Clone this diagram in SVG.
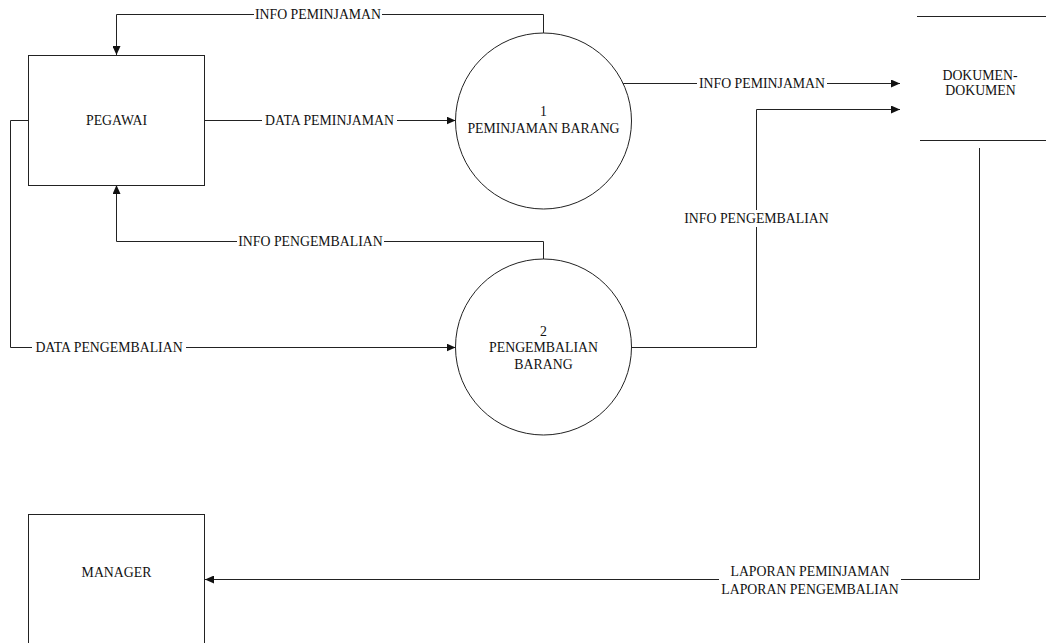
<svg xmlns="http://www.w3.org/2000/svg" width="1046" height="643" viewBox="0 0 1046 643">
<style>
text{font-family:'Liberation Serif','DejaVu Serif',serif;font-size:13.8px;fill:#111;text-anchor:middle}
.n{fill:#fff;stroke:#222;stroke-width:1}
.c{fill:none;stroke:#222;stroke-width:1}
</style>
<defs>
<marker id="ah" markerUnits="userSpaceOnUse" markerWidth="9" markerHeight="8" refX="9" refY="4" orient="auto">
<path d="M0,0 L9,4 L0,8 z" fill="#111"/>
</marker>
</defs>
<rect width="1046" height="643" fill="#fff"/>
<g id="connectors">
<path class="c" d="M543.5,33 V14.5 H382"/>
<path class="c" d="M254,14.5 H116.5 V55" marker-end="url(#ah)"/>
<text x="318" y="19">INFO PEMINJAMAN</text>
<path class="c" d="M205,120.5 H262"/>
<path class="c" d="M397,120.5 H455.5" marker-end="url(#ah)"/>
<text x="329.5" y="125">DATA PEMINJAMAN</text>
<path class="c" d="M543.5,259 V241.5 H384"/>
<path class="c" d="M237,241.5 H116.5 V185" marker-end="url(#ah)"/>
<text x="310.5" y="246">INFO PENGEMBALIAN</text>
<path class="c" d="M28,120.5 H10.5 V347.5 H32"/>
<path class="c" d="M186,347.5 H455.5" marker-end="url(#ah)"/>
<text x="109" y="352">DATA PENGEMBALIAN</text>
<path class="c" d="M622.5,83.5 H697"/>
<path class="c" d="M827,83.5 H900" marker-end="url(#ah)"/>
<text x="762" y="88">INFO PEMINJAMAN</text>
<path class="c" d="M631,347.5 H756.5 V227"/>
<path class="c" d="M756.5,210 V109.5 H900" marker-end="url(#ah)"/>
<text x="756.5" y="223">INFO PENGEMBALIAN</text>
<path class="c" d="M979.5,148 V579.5 H901"/>
<path class="c" d="M719,579.5 H205" marker-end="url(#ah)"/>
<text x="810" y="576">LAPORAN PEMINJAMAN</text>
<text x="810" y="594">LAPORAN PENGEMBALIAN</text>
</g>
<g id="pegawai">
<rect class="n" x="28.5" y="55.5" width="176" height="130"/>
<text x="116.5" y="125">PEGAWAI</text>
</g>
<g id="manager">
<rect class="n" x="28.5" y="514.5" width="176" height="140"/>
<text x="116.5" y="577">MANAGER</text>
</g>
<g id="proses1">
<circle class="n" cx="543.5" cy="121" r="88"/>
<text x="543.5" y="116">1</text>
<text x="543.5" y="133">PEMINJAMAN BARANG</text>
</g>
<g id="proses2">
<circle class="n" cx="543.5" cy="347" r="88"/>
<text x="543.5" y="336">2</text>
<text x="543.5" y="352">PENGEMBALIAN</text>
<text x="543.5" y="369">BARANG</text>
</g>
<g id="dokumen">
<path class="c" d="M917,16.5 H1046 M920,140.5 H1046"/>
<text x="980" y="79.5">DOKUMEN-</text>
<text x="980.5" y="95">DOKUMEN</text>
</g>
</svg>
